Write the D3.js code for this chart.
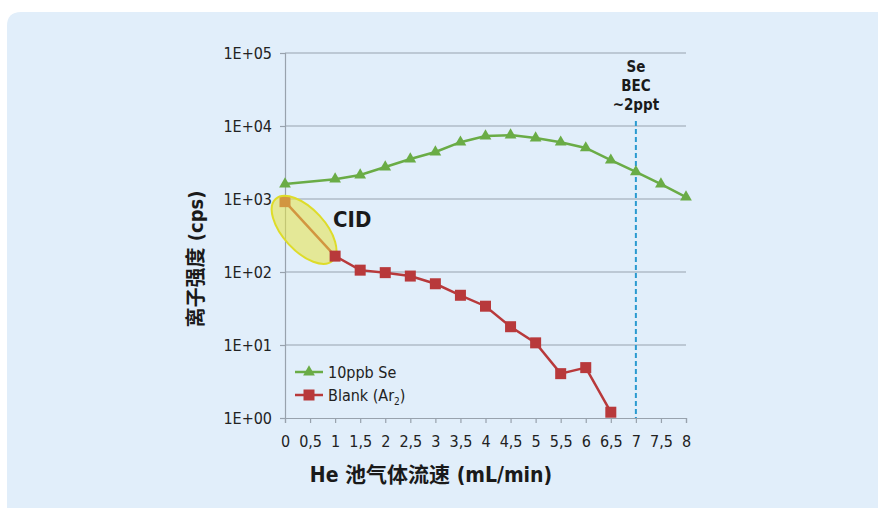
<!DOCTYPE html>
<html>
<head>
<meta charset="utf-8">
<script src="https://cdn.jsdelivr.net/npm/d3@7"></script>
<style>
  html, body { margin: 0; padding: 0; background: #fff; }
  svg { display: block; }
</style>
</head>
<body>
<svg id="chart" width="878" height="508"></svg>
<script>
// Helium cell gas flow (mL/min)
const flowSe = [0, 1, 1.5, 2, 2.5, 3, 3.5, 4, 4.5, 5, 5.5, 6, 6.5, 7, 7.5, 8];
// 10 ppb Se signal (cps)
const se10ppb = [1600, 1870, 2130, 2740, 3530, 4400, 6000, 7300, 7500, 6850, 6000, 5000, 3400, 2350, 1600, 1060];
const flowBlank = [0, 1, 1.5, 2, 2.5, 3, 3.5, 4, 4.5, 5, 5.5, 6, 6.5];
// Blank (Ar2) signal (cps)
const blankAr2 = [920, 165, 106, 98, 88, 69, 48, 34, 17.8, 10.7, 4.05, 4.9, 1.2];
const xTicks = [0, 0.5, 1, 1.5, 2, 2.5, 3, 3.5, 4, 4.5, 5, 5.5, 6, 6.5, 7, 7.5, 8];
const yTicks = [1, 10, 100, 1000, 10000, 100000];
const yTickLabels = ["1E+00", "1E+01", "1E+02", "1E+03", "1E+04", "1E+05"];
const becFlow = 7;

const svg = d3.select("#chart");
const font = '"Liberation Sans Narrow", "DejaVu Sans Condensed", "Noto Sans CJK SC", sans-serif';

// background panel
svg.append("path")
  .attr("d", "M7,26 Q7,12 21,12 L878,12 L878,508 L7,508 Z")
  .attr("fill", "#e1eefa");

const x = d3.scaleLinear().domain([0, 8]).range([285, 686]);
const y = d3.scaleLog().domain([1, 100000]).range([418, 53]);

// horizontal grid lines
svg.append("g").selectAll("line").data(yTicks.slice(1)).join("line")
  .attr("x1", x(0)).attr("x2", x(8))
  .attr("y1", d => y(d)).attr("y2", d => y(d))
  .attr("stroke", "#98a2ad").attr("stroke-width", 1.2);

// y axis
const yAxis = d3.axisLeft(y).tickValues(yTicks)
  .tickFormat((d, i) => yTickLabels[i]).tickSize(5).tickPadding(8);
const gy = svg.append("g").attr("transform", `translate(${x(0)},0)`).call(yAxis);
gy.select(".domain").attr("stroke", "#98a2ad").attr("stroke-width", 1.2);
gy.selectAll(".tick line").attr("stroke", "#98a2ad").attr("stroke-width", 1.2);
gy.selectAll("text").attr("font-family", font).attr("font-stretch", "condensed")
  .attr("font-size", 16).attr("fill", "#222");

// x axis
const xAxis = d3.axisBottom(x).tickValues(xTicks)
  .tickFormat(d => String(d).replace(".", ",")).tickSize(5).tickPadding(13);
const gx = svg.append("g").attr("transform", `translate(0,${y(1)})`).call(xAxis);
gx.select(".domain").attr("stroke", "#98a2ad").attr("stroke-width", 1.2);
gx.selectAll(".tick line").attr("stroke", "#98a2ad").attr("stroke-width", 1.2);
gx.selectAll("text").attr("font-family", font).attr("font-stretch", "condensed")
  .attr("font-size", 16).attr("fill", "#222");

// BEC marker line
svg.append("line")
  .attr("x1", x(becFlow)).attr("x2", x(becFlow))
  .attr("y1", 121).attr("y2", y(1))
  .attr("stroke", "#2a9ad0").attr("stroke-width", 2)
  .attr("stroke-dasharray", "5,3");

const line = d3.line().x(d => x(d[0])).y(d => y(d[1]));

// 10 ppb Se series
const seData = flowSe.map((f, i) => [f, se10ppb[i]]);
svg.append("path").datum(seData).attr("d", line)
  .attr("fill", "none").attr("stroke", "#6aac46").attr("stroke-width", 2.5);
const tri = d3.symbol().type(d3.symbolTriangle).size(60);
svg.append("g").selectAll("path").data(seData).join("path")
  .attr("d", tri).attr("transform", d => `translate(${x(d[0])},${y(d[1])})`)
  .attr("fill", "#6aac46");

// Blank (Ar2) series: line and first marker sit under the highlight
const blData = flowBlank.map((f, i) => [f, blankAr2[i]]);
svg.append("path").datum(blData).attr("d", line)
  .attr("fill", "none").attr("stroke", "#b8393b").attr("stroke-width", 2.5);
const squares = (g, data) => g.selectAll("rect").data(data).join("rect")
  .attr("x", d => x(d[0]) - 5.5).attr("y", d => y(d[1]) - 5.5)
  .attr("width", 11).attr("height", 11).attr("fill", "#b8393b");
squares(svg.append("g"), blData.slice(0, 1));

// CID highlight ellipse over the first blank segment
const p0 = [x(flowBlank[0]), y(blankAr2[0])];
const p1 = [x(flowBlank[1]), y(blankAr2[1])];
const cx = (p0[0] + p1[0]) / 2 - 6, cy = (p0[1] + p1[1]) / 2 + 1;
const ang = Math.atan2(p1[1] - p0[1], p1[0] - p0[0]) * 180 / Math.PI;
svg.append("ellipse")
  .attr("cx", cx).attr("cy", cy).attr("rx", 42).attr("ry", 21)
  .attr("transform", `rotate(${ang},${cx},${cy})`)
  .attr("fill", "#e8e446").attr("fill-opacity", 0.55)
  .attr("stroke", "#dedc2a").attr("stroke-width", 2);

squares(svg.append("g"), blData.slice(1));

// CID label
svg.append("text").attr("x", 333).attr("y", 227)
  .attr("font-family", font).attr("font-stretch", "condensed")
  .attr("font-weight", "bold").attr("font-size", 22).attr("fill", "#1a1a1a")
  .text("CID");

// BEC annotation
const bec = svg.append("text").attr("text-anchor", "middle")
  .attr("font-family", font).attr("font-stretch", "condensed")
  .attr("font-weight", "bold").attr("font-size", 15).attr("fill", "#1a1a1a");
[["Se", 72], ["BEC", 91], ["~2ppt", 110]].forEach(([t, yy]) =>
  bec.append("tspan").attr("x", x(becFlow)).attr("y", yy).text(t));

// legend
const lg = svg.append("g");
lg.append("line").attr("x1", 295).attr("x2", 323).attr("y1", 372).attr("y2", 372)
  .attr("stroke", "#6aac46").attr("stroke-width", 2.5);
lg.append("path").attr("d", tri).attr("transform", "translate(309,372)").attr("fill", "#6aac46");
lg.append("text").attr("x", 328).attr("y", 378)
  .attr("font-family", font).attr("font-stretch", "condensed")
  .attr("font-size", 16).attr("fill", "#222").text("10ppb Se");
lg.append("line").attr("x1", 295).attr("x2", 323).attr("y1", 395).attr("y2", 395)
  .attr("stroke", "#b8393b").attr("stroke-width", 2.5);
lg.append("rect").attr("x", 303.5).attr("y", 389.5).attr("width", 11).attr("height", 11).attr("fill", "#b8393b");
const bt = lg.append("text").attr("x", 328).attr("y", 401)
  .attr("font-family", font).attr("font-stretch", "condensed")
  .attr("font-size", 16).attr("fill", "#222");
bt.append("tspan").text("Blank (Ar");
bt.append("tspan").attr("font-size", 10).attr("dy", 4).text("2");
bt.append("tspan").attr("dy", -4).text(")");

// axis titles
svg.append("text")
  .attr("transform", "translate(203,259) rotate(-90)")
  .attr("text-anchor", "middle")
  .attr("font-family", font).attr("font-stretch", "condensed")
  .attr("font-weight", "bold").attr("font-size", 20).attr("fill", "#1a1a1a")
  .text("离子强度 (cps)");
svg.append("text")
  .attr("x", 431).attr("y", 482).attr("text-anchor", "middle")
  .attr("font-family", font).attr("font-stretch", "condensed")
  .attr("font-weight", "bold").attr("font-size", 21).attr("fill", "#1a1a1a")
  .text("He 池气体流速 (mL/min)");
</script>
</body>
</html>
